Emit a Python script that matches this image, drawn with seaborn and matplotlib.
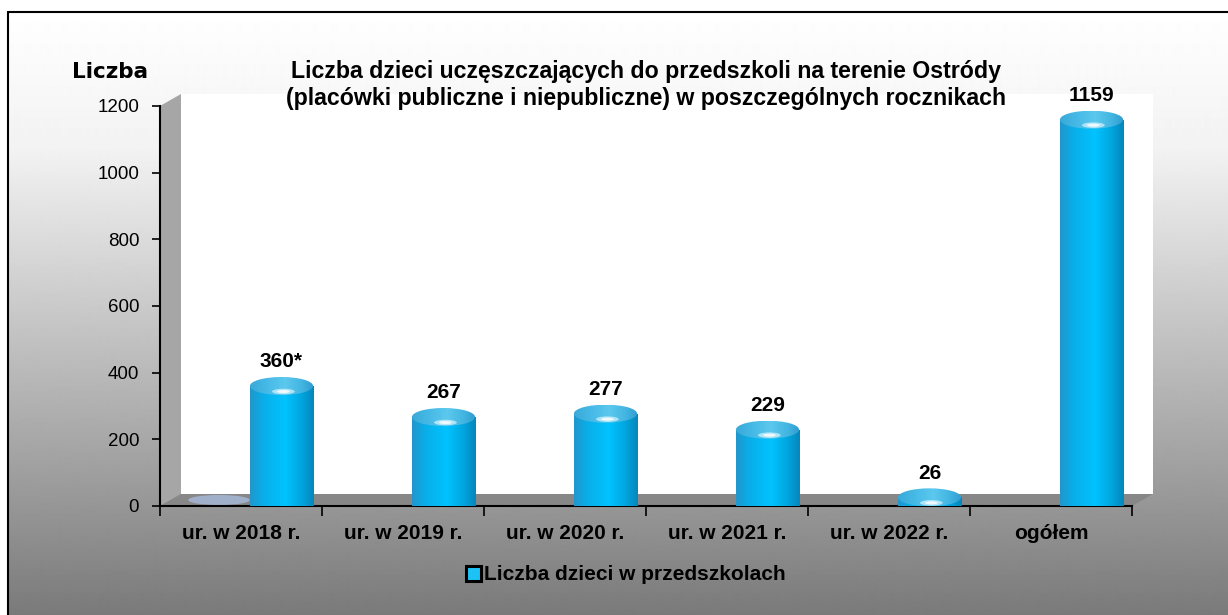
import numpy as np
import pandas as pd
import matplotlib
matplotlib.use("Agg")
import matplotlib.pyplot as plt
import seaborn as sns
from matplotlib.patches import Ellipse, Polygon, Rectangle
from matplotlib.colors import LinearSegmentedColormap

# ---------------- data ----------------
categories = ["ur. w 2018 r.", "ur. w 2019 r.", "ur. w 2020 r.", "ur. w 2021 r.", "ur. w 2022 r.", "ogółem"]
children = [360, 267, 277, 229, 26, 1159]
value_labels = ["360*", "267", "277", "229", "26", "1159"]
series_name = "Liczba dzieci w przedszkolach"
empty_series = [0]          # zero-valued series visible as a flat disc at the first category
y_ticks = [0, 200, 400, 600, 800, 1000, 1200]
title = ("Liczba dzieci uczęszczających do przedszkoli na terenie Ostródy\n"
         "(placówki publiczne i niepubliczne) w poszczególnych rocznikach")
y_label = "Liczba"

# ---------------- style ----------------
sns.set_theme(style="white")
plt.rcParams["font.family"] = ["Liberation Sans", "DejaVu Sans"]
plt.rcParams["text.color"] = "black"
plt.rcParams["axes.labelcolor"] = "black"
plt.rcParams["xtick.color"] = "black"
plt.rcParams["ytick.color"] = "black"

W, H = 1228, 615
fig = plt.figure(figsize=(W / 100, H / 100), dpi=100)

# background (pixel coordinates)
bg = fig.add_axes([0, 0, 1, 1], zorder=0)
bg.set_xlim(0, W)
bg.set_ylim(H, 0)
bg.axis("off")
ys = np.arange(H)
shade = np.interp(ys, [0, 12, 150, 450, 615], [255, 255, 242, 165, 122]) / 255.0
bg.imshow(np.repeat(shade[:, None], 2, axis=1), extent=[0, W, H, 0], cmap="gray",
          vmin=0, vmax=1, aspect="auto", interpolation="bilinear")
bg.add_patch(Rectangle((0, 0), W, 12, color="white", lw=0))
bg.add_patch(Rectangle((0, 0), 8, H, color="white", lw=0))
bg.plot([8, W], [12, 12], color="black", lw=1.5)
bg.plot([8, 8], [12, H], color="black", lw=1.5)

# 3D box: back wall, side wall, floor
L, R, B, T = 160, 1132, 506, 106
dx, dy = 21, -12
bg.add_patch(Rectangle((L + dx, T + dy), (R + dx) - (L + dx), (B + dy) - (T + dy),
                       facecolor="white", lw=0))
bg.add_patch(Polygon([(L, T), (L + dx, T + dy), (L + dx, B + dy), (L, B)],
                     closed=True, facecolor="#a6a6a6", lw=0))
bg.add_patch(Polygon([(L, B), (L + dx, B + dy), (R + dx, B + dy), (R, B)],
                     closed=True, facecolor="#878787", lw=0))
bg.set_xlim(0, W)
bg.set_ylim(H, 0)

# main axes
ax = fig.add_axes([L / W, (H - B) / H, (R - L) / W, (B - T) / H], zorder=1)
ax.patch.set_alpha(0)

df = pd.DataFrame({"category": categories, "value": children})
sns.barplot(data=df, x="category", y="value", ax=ax, width=0.39,
            color="#00B0F0", saturation=1, zorder=3)
main_patches = list(ax.patches)

sns.barplot(x=categories[:len(empty_series)], y=empty_series, ax=ax, width=0.38,
            color="#a9bfe3", saturation=1, zorder=2)
ghost_patches = [p for p in ax.patches if p not in main_patches]

ax.set_xlim(-0.5, len(categories) - 0.5)
ax.set_ylim(0, 1200)
upx = 1200 / (B - T)   # data units per pixel

cyl_cmap = LinearSegmentedColormap.from_list(
    "cyl", [(0.0, "#2196cc"), (0.2, "#0aaee8"), (0.55, "#00c3ff"),
            (0.8, "#00a6e0"), (1.0, "#0786ba")])
cap_cmap = LinearSegmentedColormap.from_list(
    "cap", [(0.0, "#3aa9d8"), (0.25, "#45b9e6"), (0.55, "#5cc8ee"),
            (0.8, "#43b6e2"), (1.0, "#2f9cd0")])
grad_row = np.linspace(0, 1, 256)[None, :]

for p, lbl in zip(main_patches, value_labels):
    p.set_x(p.get_x() + 0.25)
    x0, w, h = p.get_x(), p.get_width(), p.get_height()
    cx = x0 + w / 2
    p.set_facecolor("none")
    p.set_edgecolor("none")
    im = ax.imshow(grad_row, extent=[x0, x0 + w, 0, h], cmap=cyl_cmap,
                   aspect="auto", zorder=3, interpolation="bilinear")
    im.set_clip_path(p)
    cap = Ellipse((cx, h), w, 18 * upx, facecolor="none", edgecolor="none", zorder=4)
    ax.add_patch(cap)
    cim = ax.imshow(grad_row, extent=[x0, x0 + w, h - 9 * upx, h + 9 * upx], cmap=cap_cmap,
                    aspect="auto", zorder=4, interpolation="bilinear")
    cim.set_clip_path(cap)
    ax.add_patch(Ellipse((cx + 0.03 * w, h - 5.5 * upx), 0.36 * w, 5.5 * upx,
                         facecolor="#e3f9ff", edgecolor="none", alpha=0.65, zorder=5))
    ax.add_patch(Ellipse((cx + 0.03 * w, h - 5.5 * upx), 0.2 * w, 3 * upx,
                         facecolor="white", edgecolor="none", alpha=0.8, zorder=5))
    ax.annotate(lbl, (cx, h), xytext=(0, 17.5), textcoords="offset points",
                ha="center", va="center", fontsize=15, fontweight="bold",
                color="black", zorder=6)

for p in ghost_patches:
    p.set_x(p.get_x() - 0.136)
    x0, w, h = p.get_x(), p.get_width(), p.get_height()
    p.set_visible(False)
    ax.add_patch(Ellipse((x0 + w / 2, h + 6 * upx), w, 10 * upx,
                         facecolor="#a9bfe3", edgecolor="none", alpha=0.75, zorder=2))

ax.set_xlim(-0.5, len(categories) - 0.5)
ax.set_ylim(0, 1200)

# axes styling
for s in ["top", "right"]:
    ax.spines[s].set_visible(False)
for s in ["left", "bottom"]:
    ax.spines[s].set_color("black")
    ax.spines[s].set_linewidth(1.5)
ax.set_xlabel("")
ax.set_ylabel("")
ax.set_yticks(y_ticks)
ax.set_yticklabels([str(v) for v in y_ticks], fontsize=13.5, color="black")
ax.tick_params(axis="y", which="major", direction="out", length=6, width=1.2,
               color="black", left=True, pad=9)
ax.set_xticks(np.arange(-0.5, len(categories), 1.0))
ax.set_xticklabels([])
ax.set_xticks(np.arange(len(categories)), minor=True)
ax.set_xticklabels(categories, minor=True, fontsize=15, fontweight="bold", color="black")
ax.tick_params(axis="x", which="major", direction="out", length=7, width=1.2,
               color="black", bottom=True)
ax.tick_params(axis="x", which="minor", length=0, pad=13)

# texts
fig.text(110 / W, 1 - 72 / H, y_label, ha="center", va="center", color="black",
         fontsize=15.5, fontweight="bold", family=["DejaVu Sans"])
fig.text(646 / W, 1 - 85 / H, title, ha="center", va="center", color="black",
         fontsize=16.7, fontweight="bold", linespacing=1.25)

handle = Rectangle((0, 0), 1, 1, facecolor="#1cc2f5", edgecolor="black", lw=2.2)
leg = fig.legend([handle], [series_name], loc="center", bbox_to_anchor=(626 / W, 1 - 575 / H),
                 frameon=False, prop={"weight": "bold", "size": 15},
                 handlelength=0.7, handleheight=0.7, handletextpad=0.15)
for t in leg.get_texts():
    t.set_color("black")

fig.savefig("out.png", dpi=100)
